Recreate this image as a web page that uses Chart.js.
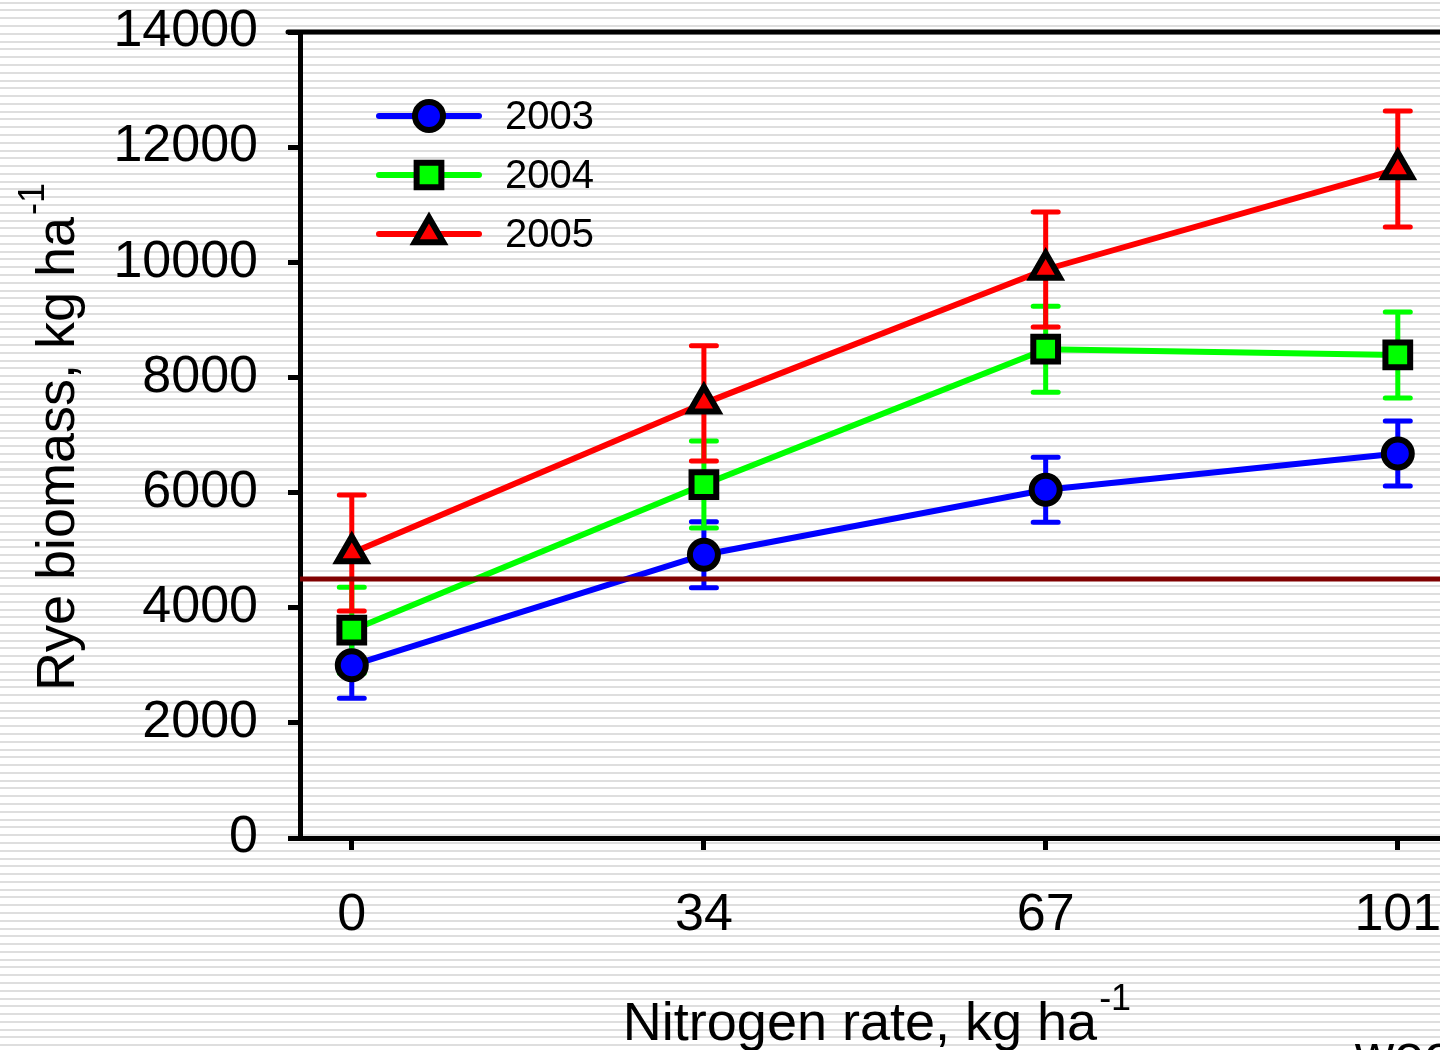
<!DOCTYPE html>
<html>
<head>
<meta charset="utf-8">
<script src="https://cdn.jsdelivr.net/npm/chart.js@4"></script>
<style>
    html, body { margin: 0; padding: 0; overflow: hidden; width: 1440px; height: 1050px; }
    body {
        background: repeating-linear-gradient(to bottom,
            #ffffff 0px, #ffffff 1.7px, #dedede 1.7px, #dedede 3.7px, #ffffff 3.7px, #ffffff 7.78px);
    }
    #wrap { position: absolute; left: 0; top: 0; width: 1560px; height: 1050px; }
</style>
</head>
<body>
<div id="wrap"><canvas id="ryeChart" width="1560" height="1050"></canvas></div>
<script>
// Data
const nitrogenRates = [0, 34, 67, 101];
const biomass2003 = [3000, 4920, 6050, 6680];
const biomass2004 = [3610, 6140, 8490, 8390];
const biomass2005 = [4950, 7550, 9875, 11620];
const err2003 = [573, 573, 565, 565];
const err2004 = [747, 755, 747, 747];
const err2005 = [1008, 1000, 1000, 1007];
const thresholdValue = 4500;
const yTicks = [0, 2000, 4000, 6000, 8000, 10000, 12000, 14000];
const seriesLabels = ['2003', '2004', '2005'];

const FONT = '"Liberation Sans", Arial, sans-serif';

function toPoints(values) {
    return nitrogenRates.map((x, i) => ({ x: x, y: values[i] }));
}

const seriesStyle = [
    { color: '#0000ff', pointStyle: 'circle', radius: 14 },
    { color: '#00ff00', pointStyle: 'rect', radius: 17.5 },
    { color: '#ff0000', pointStyle: 'triangle', radius: 16.5 }
];
const seriesErrors = [err2003, err2004, err2005];

// error bars, drawn under the lines and markers
const errorBarPlugin = {
    id: 'errorBars',
    beforeDatasetsDraw(chart) {
        const ctx = chart.ctx;
        const xs = chart.scales.x, ys = chart.scales.y;
        ctx.save();
        ctx.lineCap = 'round';
        ctx.lineWidth = 5;
        chart.data.datasets.forEach((ds, di) => {
            const errs = seriesErrors[di];
            ctx.strokeStyle = seriesStyle[di].color;
            ds.data.forEach((p, i) => {
                const px = xs.getPixelForValue(p.x);
                const top = ys.getPixelForValue(p.y + errs[i]);
                const bot = ys.getPixelForValue(p.y - errs[i]);
                ctx.beginPath();
                ctx.moveTo(px, top); ctx.lineTo(px, bot);
                ctx.moveTo(px - 12.5, top); ctx.lineTo(px + 12.5, top);
                ctx.moveTo(px - 12.5, bot); ctx.lineTo(px + 12.5, bot);
                ctx.stroke();
            });
        });
        ctx.restore();
    },
    afterDatasetsDraw(chart) {
        const ctx = chart.ctx;
        const area = chart.chartArea;
        const y = chart.scales.y.getPixelForValue(thresholdValue);
        ctx.save();
        ctx.strokeStyle = '#800000';
        ctx.lineWidth = 5;
        ctx.beginPath();
        ctx.moveTo(area.left, y);
        ctx.lineTo(area.right, y);
        ctx.stroke();
        ctx.restore();
    }
};

// frame top edge, legend, axis titles with superscripts
const decorPlugin = {
    id: 'decor',
    afterDraw(chart) {
        const ctx = chart.ctx;
        const area = chart.chartArea;
        ctx.save();
        ctx.strokeStyle = '#000';
        ctx.lineWidth = 5;
        ctx.lineCap = 'round';
        ctx.beginPath();
        ctx.moveTo(area.left - 12, area.top);
        ctx.lineTo(area.right, area.top);
        ctx.stroke();

        // legend
        const rows = [116, 175, 234];
        seriesLabels.forEach((label, i) => {
            const st = seriesStyle[i];
            ctx.strokeStyle = st.color;
            ctx.lineWidth = 6;
            ctx.beginPath();
            ctx.moveTo(379, rows[i]);
            ctx.lineTo(479, rows[i]);
            ctx.stroke();
            ctx.fillStyle = st.color;
            ctx.strokeStyle = '#000';
            ctx.lineWidth = 6;
            Chart.helpers.drawPoint(ctx, { pointStyle: st.pointStyle, radius: st.radius, rotation: 0, borderWidth: 6 }, 429, rows[i]);
            ctx.fillStyle = '#000';
            ctx.font = '40px ' + FONT;
            ctx.textAlign = 'left';
            ctx.textBaseline = 'middle';
            ctx.fillText(label, 505, rows[i] + 2);
        });

        // x axis title
        ctx.fillStyle = '#000';
        ctx.textBaseline = 'alphabetic';
        ctx.textAlign = 'left';
        ctx.font = '54px ' + FONT;
        const xt = 'Nitrogen rate, kg ha';
        const xw = ctx.measureText(xt).width;
        ctx.font = '36px ' + FONT;
        const sw = ctx.measureText('-1').width;
        const xStart = 876 - (xw + sw) / 2;
        ctx.font = '54px ' + FONT;
        ctx.fillText(xt, xStart, 1040);
        ctx.font = '36px ' + FONT;
        ctx.fillText('-1', xStart + xw + 2, 1010);

        // y axis title
        ctx.save();
        ctx.translate(74, 438);
        ctx.rotate(-Math.PI / 2);
        ctx.font = '54px ' + FONT;
        const yt = 'Rye biomass, kg ha';
        const yw = ctx.measureText(yt).width;
        const yStart = -(yw + sw) / 2;
        ctx.fillText(yt, yStart, 0);
        ctx.font = '36px ' + FONT;
        ctx.fillText('-1', yStart + yw + 2, -30);
        ctx.restore();

        // clipped text at the bottom edge
        ctx.font = '54px ' + FONT;
        ctx.fillText('wee', 1355, 1072);
        ctx.restore();
    }
};

const datasets = [biomass2003, biomass2004, biomass2005].map((vals, i) => ({
    label: seriesLabels[i],
    data: toPoints(vals),
    borderColor: seriesStyle[i].color,
    backgroundColor: seriesStyle[i].color,
    borderWidth: 6,
    pointStyle: seriesStyle[i].pointStyle,
    pointRadius: seriesStyle[i].radius,
    pointBackgroundColor: seriesStyle[i].color,
    pointBorderColor: '#000',
    pointBorderWidth: 6,
    tension: 0,
    clip: false
}));

new Chart(document.getElementById('ryeChart'), {
    type: 'line',
    data: { datasets: datasets },
    options: {
        responsive: false,
        animation: false,
        events: [],
        layout: { padding: { top: 32, right: 69, left: 0, bottom: 0 } },
        plugins: { legend: { display: false }, tooltip: { enabled: false } },
        scales: {
            x: {
                type: 'linear',
                min: -5,
                max: 110,
                afterBuildTicks: (scale) => { scale.ticks = nitrogenRates.map(v => ({ value: v })); },
                afterFit: (scale) => {
                    scale.height = 212;
                    scale.paddingLeft = 0; scale.paddingRight = 0;
                    scale.paddingTop = 0; scale.paddingBottom = 0;
                },
                ticks: {
                    color: '#000', font: { family: FONT, size: 52 }, padding: 34, maxRotation: 0, autoSkip: false,
                    callback: (v) => String(v)
                },
                grid: { display: true, drawOnChartArea: false, drawTicks: true, tickLength: 12, color: '#000', lineWidth: 5 },
                border: { display: true, color: '#000', width: 5 }
            },
            y: {
                min: 0,
                max: 14000,
                afterBuildTicks: (scale) => { scale.ticks = yTicks.map(v => ({ value: v })); },
                afterFit: (scale) => {
                    scale.width = 300;
                    scale.paddingTop = 0; scale.paddingBottom = 0;
                    scale.paddingLeft = 0; scale.paddingRight = 0;
                },
                ticks: {
                    color: '#000', font: { family: FONT, size: 52 }, padding: 30,
                    callback: (v) => String(v)
                },
                grid: { display: true, drawOnChartArea: false, drawTicks: true, tickLength: 12, color: '#000', lineWidth: 5 },
                border: { display: true, color: '#000', width: 5 }
            }
        }
    },
    plugins: [errorBarPlugin, decorPlugin]
});
</script>
</body>
</html>
